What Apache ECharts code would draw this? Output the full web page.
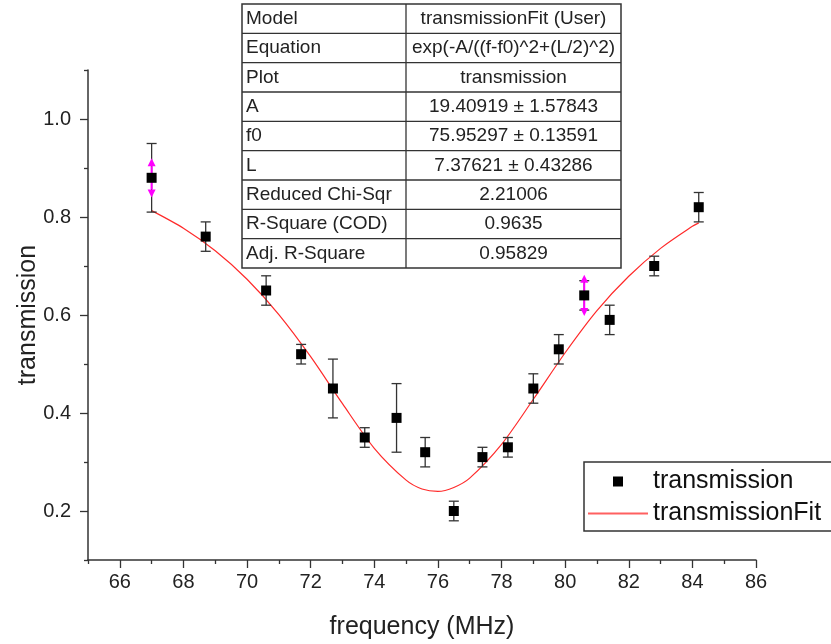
<!DOCTYPE html>
<html><head><meta charset="utf-8">
<script src="https://cdn.jsdelivr.net/npm/echarts@6/dist/echarts.min.js"></script>
<style>html,body{margin:0;padding:0;background:#fff}#chart{width:831px;height:644px}</style>
</head><body><div id="chart"></div>
<script>
const frequency       = [67.0, 68.7, 70.6, 71.7, 72.7, 73.7, 74.7, 75.6, 76.5, 77.4, 78.2, 79.0, 79.8, 80.6, 81.4, 82.8, 84.2];
const transmission    = [0.88, 0.76, 0.65, 0.52, 0.45, 0.35, 0.39, 0.32, 0.20, 0.31, 0.33, 0.45, 0.53, 0.64, 0.59, 0.70, 0.82];
const transmissionErr = [0.07, 0.03, 0.03, 0.02, 0.06, 0.02, 0.07, 0.03, 0.02, 0.02, 0.02, 0.03, 0.03, 0.03, 0.03, 0.02, 0.03];
// highlighted (magenta double arrow) points
const arrowFrequency    = [67.0, 80.6];
const arrowTransmission = [0.88, 0.64];
const arrowHalf         = [0.04, 0.042];
// fit curve
const fitFrequency    = [67, 68, 69, 70, 71, 72, 73, 74, 75, 75.5, 76, 76.5, 77, 78, 79, 80, 81, 82, 83, 84, 84.2];
const fitTransmission = [0.813, 0.777, 0.731, 0.673, 0.601, 0.515, 0.419, 0.328, 0.263, 0.245, 0.240, 0.248, 0.267, 0.336, 0.428, 0.523, 0.609, 0.679, 0.736, 0.781, 0.788];
// ticks
const xMajorTicks = [66, 68, 70, 72, 74, 76, 78, 80, 82, 84, 86];
const xMinorTicks = [65, 67, 69, 71, 73, 75, 77, 79, 81, 83, 85];
const yMajorTicks = [0.2, 0.4, 0.6, 0.8, 1.0];
const yMinorTicks = [0.1, 0.3, 0.5, 0.7, 0.9, 1.1];
// fit report table
const tableLabels = ['Model', 'Equation', 'Plot', 'A', 'f0', 'L', 'Reduced Chi-Sqr', 'R-Square (COD)', 'Adj. R-Square'];
const tableValues = ['transmissionFit (User)', 'exp(-A/((f-f0)^2+(L/2)^2)', 'transmission', '19.40919 \u00b1 1.57843', '75.95297 \u00b1 0.13591', '7.37621 \u00b1 0.43286', '2.21006', '0.9635', '0.95829'];

const FONT = '"Liberation Sans", Arial, sans-serif';
const chart = echarts.init(document.getElementById('chart'), null, {renderer: 'canvas'});

const errData = frequency.map((f, i) => [f, transmission[i], transmissionErr[i]]);
const arrowData = arrowFrequency.map((f, i) => [f, arrowTransmission[i], arrowHalf[i]]);
const pointData = frequency.map((f, i) => [f, transmission[i]]);
const fitData = fitFrequency.map((f, i) => [f, fitTransmission[i]]);

// table graphic
const T = {left: 242, top: 4, w1: 164, w2: 215, rowH: 29.33};
const tableChildren = [];
const tW = T.w1 + T.w2, tH = T.rowH * tableLabels.length;
tableChildren.push({type: 'rect', shape: {x: T.left, y: T.top, width: tW, height: tH}, style: {fill: '#fff', stroke: '#333', lineWidth: 1.5}, z: 10});
for (let i = 1; i < tableLabels.length; i++) {
  const y = T.top + T.rowH * i;
  tableChildren.push({type: 'line', shape: {x1: T.left, y1: y, x2: T.left + tW, y2: y}, style: {stroke: '#333', lineWidth: 1.3}, z: 11});
}
tableChildren.push({type: 'line', shape: {x1: T.left + T.w1, y1: T.top, x2: T.left + T.w1, y2: T.top + tH}, style: {stroke: '#333', lineWidth: 1.3}, z: 11});
tableLabels.forEach((lab, i) => {
  const cy = T.top + T.rowH * (i + 0.5);
  tableChildren.push({type: 'text', x: T.left + 4, y: cy, style: {text: lab, font: '19px ' + FONT, fill: '#222', textAlign: 'left', textVerticalAlign: 'middle'}, z: 12});
  tableChildren.push({type: 'text', x: T.left + T.w1 + T.w2 / 2, y: cy, style: {text: tableValues[i], font: '19px ' + FONT, fill: '#222', textAlign: 'center', textVerticalAlign: 'middle'}, z: 12});
});

const axisTextColor = '#222';
const option = {
  backgroundColor: '#fff',
  animation: false,
  grid: {left: 88, right: 75, top: 70, bottom: 84, containLabel: false, outerBoundsMode: 'none'},
  xAxis: [{
    type: 'value', min: 65, max: 86, position: 'bottom', offset: 0,
    name: 'frequency (MHz)', nameLocation: 'middle', nameGap: 55, nameMoveOverlap: false,
    nameTextStyle: {fontSize: 25, color: axisTextColor, fontFamily: FONT},
    axisLine: {show: true, onZero: false, lineStyle: {color: '#333', width: 1.5}},
    axisTick: {show: true, inside: false, length: 8, customValues: xMajorTicks, lineStyle: {color: '#333', width: 1.3}},
    axisLabel: {show: true, customValues: xMajorTicks, margin: 12, fontSize: 20, color: axisTextColor, fontFamily: FONT},
    splitLine: {show: false}
  }, {
    type: 'value', min: 65, max: 86, position: 'bottom', offset: 0,
    axisLine: {show: false, onZero: false},
    axisTick: {show: true, inside: false, length: 4, customValues: xMinorTicks, lineStyle: {color: '#333', width: 1.3}},
    axisLabel: {show: false},
    splitLine: {show: false}
  }],
  yAxis: [{
    type: 'value', min: 0.1, max: 1.1, position: 'left', offset: 0,
    name: 'transmission', nameLocation: 'middle', nameGap: 47, nameRotate: 90, nameMoveOverlap: false,
    nameTextStyle: {fontSize: 25, color: axisTextColor, fontFamily: FONT},
    axisLine: {show: true, onZero: false, lineStyle: {color: '#333', width: 1.5}},
    axisTick: {show: true, inside: false, length: 8, customValues: yMajorTicks, lineStyle: {color: '#333', width: 1.3}},
    axisLabel: {show: true, customValues: yMajorTicks, margin: 17, fontSize: 20, color: axisTextColor, fontFamily: FONT, formatter: v => v.toFixed(1)},
    splitLine: {show: false}
  }, {
    type: 'value', min: 0.1, max: 1.1, position: 'left', offset: 0,
    axisLine: {show: false, onZero: false},
    axisTick: {show: true, inside: false, length: 4, customValues: yMinorTicks, lineStyle: {color: '#333', width: 1.3}},
    axisLabel: {show: false},
    splitLine: {show: false}
  }],
  legend: {
    orient: 'vertical', left: 584, top: 462,
    padding: [7, 30, 5, 4],
    borderColor: '#333', borderWidth: 1.5, backgroundColor: '#fff',
    itemWidth: 60, itemHeight: 10, itemGap: 7,
    symbolKeepAspect: true,
    textStyle: {fontSize: 25, color: '#111', fontFamily: FONT, lineHeight: 22},
    selectedMode: false,
    data: [
      {name: 'transmission', icon: 'path://M0,0H10V10H0Z', itemStyle: {color: '#000', opacity: 1}},
      {name: 'transmissionFit', icon: 'path://M0,0H60V1.8H0Z', itemStyle: {color: '#ff6060', opacity: 1}}
    ]
  },
  graphic: [{type: 'group', children: tableChildren}],
  series: [
    {
      name: 'transmissionFit', type: 'line', data: fitData, smooth: 0.3,
      showSymbol: false, symbol: 'none',
      lineStyle: {color: '#ff2a2a', width: 1.2}, itemStyle: {color: '#ff6060'}, z: 1
    },
    {
      name: 'errbars', type: 'custom', data: errData, encode: {x: 0, y: 1}, z: 2,
      renderItem: function (params, api) {
        const x = api.value(0), y = api.value(1), e = api.value(2);
        const t = api.coord([x, y + e]), b = api.coord([x, y - e]);
        const w = 5, st = {stroke: '#333', lineWidth: 1.3};
        return {type: 'group', children: [
          {type: 'line', shape: {x1: t[0], y1: t[1], x2: b[0], y2: b[1]}, style: st},
          {type: 'line', shape: {x1: t[0] - w, y1: t[1], x2: t[0] + w, y2: t[1]}, style: st},
          {type: 'line', shape: {x1: b[0] - w, y1: b[1], x2: b[0] + w, y2: b[1]}, style: st}
        ]};
      }
    },
    {
      name: 'arrows', type: 'custom', data: arrowData, encode: {x: 0, y: 1}, z: 3,
      renderItem: function (params, api) {
        const x = api.value(0), y = api.value(1), h = api.value(2);
        const t = api.coord([x, y + h]), b = api.coord([x, y - h]);
        const aw = 4, ah = 8, c = '#ff00ff';
        return {type: 'group', children: [
          {type: 'line', shape: {x1: t[0], y1: t[1] + ah, x2: b[0], y2: b[1] - ah}, style: {stroke: c, lineWidth: 2}},
          {type: 'polygon', shape: {points: [[t[0], t[1]], [t[0] - aw, t[1] + ah], [t[0] + aw, t[1] + ah]]}, style: {fill: c}},
          {type: 'polygon', shape: {points: [[b[0], b[1]], [b[0] - aw, b[1] - ah], [b[0] + aw, b[1] - ah]]}, style: {fill: c}}
        ]};
      }
    },
    {
      name: 'transmission', type: 'scatter', data: pointData,
      symbol: 'rect', symbolSize: 10, itemStyle: {color: '#000', opacity: 1}, z: 4
    }
  ]
};
chart.setOption(option);
</script>
</body></html>
